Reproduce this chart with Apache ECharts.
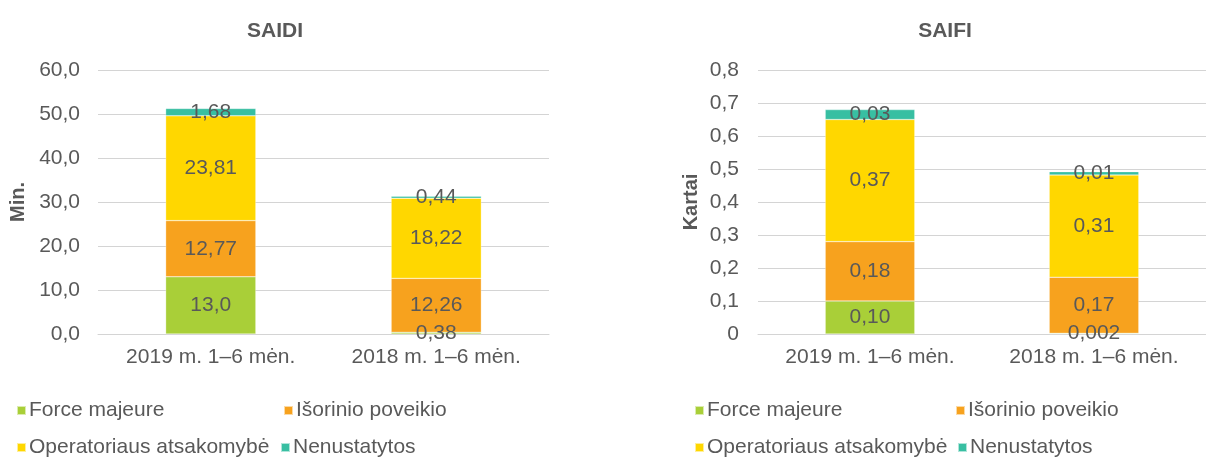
<!DOCTYPE html>
<html><head><meta charset="utf-8">
<script src="https://cdn.jsdelivr.net/npm/echarts@6/dist/echarts.min.js"></script>
<style>html,body{margin:0;padding:0;background:#fff}#c{width:1206px;height:459px}</style>
</head><body><div id="c"></div>
<script>
const categories = ['2019 m. 1–6 mėn.', '2018 m. 1–6 mėn.'];
const seriesNames = ['Force majeure', 'Išorinio poveikio', 'Operatoriaus atsakomybė', 'Nenustatytos'];
const colors = ['#A9CF38', '#F7A21E', '#FFD700', '#38BFA2'];

// SAIDI (min.)
const saidiForce = [13.0, 0.38];
const saidiIsor = [12.77, 12.26];
const saidiOper = [23.81, 18.22];
const saidiNen = [1.68, 0.44];
const saidiDecimals = [[1, 2], [2, 2], [2, 2], [2, 2]];
const saidiTicks = ['0,0', '10,0', '20,0', '30,0', '40,0', '50,0', '60,0'];

// SAIFI (kartai)
const saifiForce = [0.10, 0.002];
const saifiIsor = [0.18, 0.17];
const saifiOper = [0.37, 0.31];
const saifiNen = [0.03, 0.01];
const saifiDecimals = [[2, 3], [2, 2], [2, 2], [2, 2]];
const saifiTicks = ['0', '0,1', '0,2', '0,3', '0,4', '0,5', '0,6', '0,7', '0,8'];

const txt = '#595959';
const font = 'Liberation Sans, Arial, sans-serif';
const fs = 21;

function mkSeries(data, decimals, idx, stack) {
  return data.map((vals, i) => ({
    name: seriesNames[i], type: 'bar', stack: stack,
    xAxisIndex: idx, yAxisIndex: idx, barWidth: '40%',
    itemStyle: { color: colors[i], borderColor: 'rgba(255,255,255,0.6)', borderWidth: 0.5 },
    label: {
      show: true, position: 'inside', color: txt, fontSize: fs, fontFamily: font,
      formatter: p => p.value.toFixed(decimals[i][p.dataIndex]).replace('.', ',')
    },
    data: vals
  }));
}

const legendPos = [
  [[16, 400], [283, 400], [16, 437], [280, 437]],
  [[694, 400], [955, 400], [694, 437], [957, 437]]
];
const legends = [];
legendPos.forEach(pos => {
  seriesNames.forEach((n, i) => {
    legends.push({
      data: [n], left: pos[i][0], top: pos[i][1], itemWidth: 9, itemHeight: 9, itemGap: 0,
      selectedMode: false, icon: 'rect', padding: 0,
      textStyle: { color: txt, fontSize: fs, fontFamily: font, padding: [0, 0, 0, -2] }
    });
  });
});

const chart = echarts.init(document.getElementById('c'));
chart.setOption({
  animation: false,
  textStyle: { fontFamily: font },
  title: [
    { text: 'SAIDI', left: 270, top: 16, textAlign: 'center', textStyle: { color: txt, fontSize: fs, fontWeight: 'bold', fontFamily: font } },
    { text: 'SAIFI', left: 940, top: 16, textAlign: 'center', textStyle: { color: txt, fontSize: fs, fontWeight: 'bold', fontFamily: font } }
  ],
  legend: legends,
  grid: [
    { left: 98, width: 451, top: 70, height: 264 },
    { left: 758, width: 461, top: 70, height: 264 }
  ],
  xAxis: [0, 1].map(i => ({
    type: 'category', gridIndex: i, data: categories,
    axisLine: { lineStyle: { color: '#D4D4D4', width: 1 } }, axisTick: { show: false },
    axisLabel: { color: txt, fontSize: fs, fontFamily: font, margin: 13 }
  })),
  yAxis: [
    {
      type: 'value', gridIndex: 0, min: 0, max: 60, interval: 10,
      name: 'Min.', nameLocation: 'middle', nameGap: 70, nameRotate: 90,
      nameTextStyle: { color: txt, fontSize: 20, fontWeight: 'bold', fontFamily: font },
      axisLabel: { color: txt, fontSize: fs, fontFamily: font, margin: 18, formatter: (v) => saidiTicks[Math.round(v / 10)] },
      splitLine: { lineStyle: { color: '#D4D4D4', width: 1 } }
    },
    {
      type: 'value', gridIndex: 1, min: 0, max: 0.8, interval: 0.1,
      name: 'Kartai', nameLocation: 'middle', nameGap: 57, nameRotate: 90,
      nameTextStyle: { color: txt, fontSize: 20, fontWeight: 'bold', fontFamily: font },
      axisLabel: { color: txt, fontSize: fs, fontFamily: font, margin: 19, formatter: (v) => saifiTicks[Math.round(v * 10)] },
      splitLine: { lineStyle: { color: '#D4D4D4', width: 1 } }
    }
  ],
  series: [
    ...mkSeries([saidiForce, saidiIsor, saidiOper, saidiNen], saidiDecimals, 0, 'saidi'),
    ...mkSeries([saifiForce, saifiIsor, saifiOper, saifiNen], saifiDecimals, 1, 'saifi')
  ]
});
</script></body></html>
